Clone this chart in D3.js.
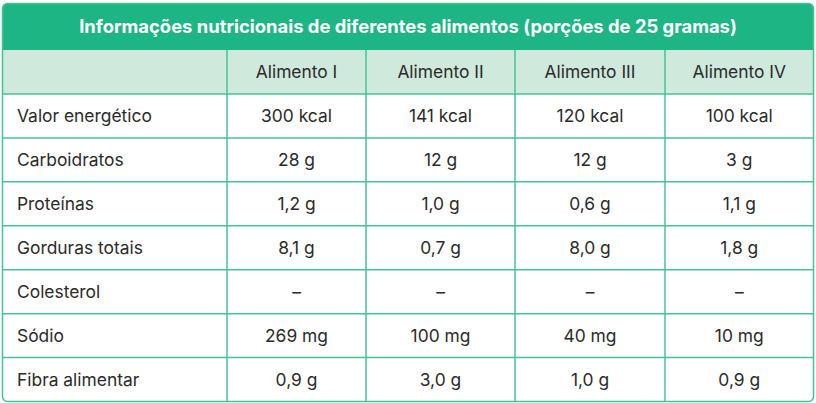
<!DOCTYPE html>
<html>
<head>
<meta charset="utf-8">
<script src="https://cdn.jsdelivr.net/npm/d3@7"></script>
<style>
  body { margin: 0; background: #fff; }
  svg { display: block; font-family: Inter, "Noto Sans", sans-serif; }
</style>
</head>
<body>
<div id="table"></div>
<script>
// Table content
const title = "Informações nutricionais de diferentes alimentos (porções de 25 gramas)";
const foods = ["Alimento I", "Alimento II", "Alimento III", "Alimento IV"];
const nutrients = ["Valor energético", "Carboidratos", "Proteínas", "Gorduras totais", "Colesterol", "Sódio", "Fibra alimentar"];
const alimentoI   = ["300 kcal", "28 g", "1,2 g", "8,1 g", "–", "269 mg", "0,9 g"];
const alimentoII  = ["141 kcal", "12 g", "1,0 g", "0,7 g", "–", "100 mg", "3,0 g"];
const alimentoIII = ["120 kcal", "12 g", "0,6 g", "8,0 g", "–", "40 mg", "1,0 g"];
const alimentoIV  = ["100 kcal", "3 g", "1,1 g", "1,8 g", "–", "10 mg", "0,9 g"];

// Layout
const W = 816, H = 403;
const box = { left: 2.5, top: 3.5, right: 813.5, bottom: 401.5 };
const titleH = 46.5;
const colWidths = [224.5, 139, 149, 150, 148.5];
const green = "#1db584", light = "#cfe9dc", line = "#43c493", ink = "#2b2b2b";

const svg = d3.select("#table").append("svg")
    .attr("width", W)
    .attr("height", H);

const columns = ["label", ...foods];
const colEdges = [0, ...d3.cumsum(colWidths)].map(v => box.left + v);
const x = d3.scaleOrdinal().domain(columns).range(colEdges.slice(0, -1));
const cw = d3.scaleOrdinal().domain(columns).range(colWidths);

const rows = ["header", ...nutrients];
const y = d3.scaleBand()
    .domain(rows)
    .range([box.top + titleH, box.bottom]);

const values = [alimentoI, alimentoII, alimentoIII, alimentoIV];
const cells = [];
rows.forEach((r, i) => {
  columns.forEach((c, j) => {
    let text;
    if (r === "header") text = j === 0 ? "" : c;
    else text = j === 0 ? r : values[j - 1][i - 1];
    cells.push({ row: r, col: c, text });
  });
});

// outer clip with rounded corners
svg.append("clipPath").attr("id", "clip")
  .append("rect")
    .attr("x", box.left).attr("y", box.top)
    .attr("width", box.right - box.left)
    .attr("height", box.bottom - box.top)
    .attr("rx", 5);

const g = svg.append("g").attr("clip-path", "url(#clip)");

// title band
g.append("rect")
    .attr("x", box.left).attr("y", box.top)
    .attr("width", box.right - box.left)
    .attr("height", titleH)
    .attr("fill", green);

// header band
g.append("rect")
    .attr("x", box.left).attr("y", y("header"))
    .attr("width", box.right - box.left)
    .attr("height", y.bandwidth())
    .attr("fill", light);

// horizontal lines
g.selectAll(".hline")
  .data(rows.slice(1))
  .join("line")
    .attr("class", "hline")
    .attr("x1", box.left).attr("x2", box.right)
    .attr("y1", d => y(d)).attr("y2", d => y(d))
    .attr("stroke", line)
    .attr("stroke-width", 1.5);

// vertical lines
g.selectAll(".vline")
  .data(foods)
  .join("line")
    .attr("class", "vline")
    .attr("x1", d => x(d)).attr("x2", d => x(d))
    .attr("y1", y("header")).attr("y2", box.bottom)
    .attr("stroke", line)
    .attr("stroke-width", 1.5);

// outer border
svg.append("rect")
    .attr("x", box.left).attr("y", box.top)
    .attr("width", box.right - box.left)
    .attr("height", box.bottom - box.top)
    .attr("rx", 5)
    .attr("fill", "none")
    .attr("stroke", line)
    .attr("stroke-width", 1.5);

svg.append("text")
    .attr("x", (box.left + box.right) / 2)
    .attr("y", box.top + titleH / 2)
    .attr("dy", "0.36em")
    .attr("text-anchor", "middle")
    .attr("fill", "#fff")
    .style("font-size", "18.4px")
    .style("font-weight", 700)
    .text(title);

svg.selectAll(".cell")
  .data(cells.filter(d => d.text))
  .join("text")
    .attr("class", "cell")
    .attr("x", d => d.col === "label" ? x(d.col) + 14.5 : x(d.col) + cw(d.col) / 2)
    .attr("y", d => y(d.row) + y.bandwidth() / 2)
    .attr("dy", "0.36em")
    .attr("text-anchor", d => d.col === "label" ? "start" : "middle")
    .attr("fill", ink)
    .style("font-size", "17.4px")
    .text(d => d.text);
</script>
</body>
</html>
